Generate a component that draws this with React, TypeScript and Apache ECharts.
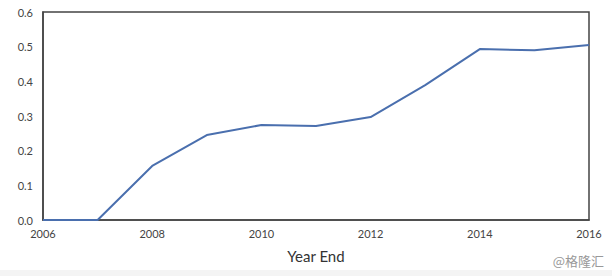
import React, { useEffect, useRef } from "react";
import * as echarts from "echarts";

const years = [2006, 2007, 2008, 2009, 2010, 2011, 2012, 2013, 2014, 2015, 2016];
const values = [0, 0, 0.156, 0.245, 0.274, 0.271, 0.297, 0.389, 0.493, 0.49, 0.505];
const xTicks = [2006, 2008, 2010, 2012, 2014, 2016];
const yTicks = [0, 0.1, 0.2, 0.3, 0.4, 0.5, 0.6];

export default function App() {
  const ref = useRef<HTMLDivElement>(null);
  useEffect(() => {
    const chart = echarts.init(ref.current!, undefined, { renderer: "svg" });
    chart.setOption({
      animation: false,
      backgroundColor: "#ffffff",
      grid: {
        left: 43,
        right: 23,
        top: 12,
        bottom: 56,
        show: true,
        borderColor: "#444",
        borderWidth: 1.5,
        backgroundColor: "transparent",
      },
      xAxis: {
        type: "value",
        min: xTicks[0],
        max: xTicks[xTicks.length - 1],
        interval: 2,
        name: "Year End",
        nameLocation: "middle",
        nameGap: 28,
        nameTextStyle: { fontSize: 15, color: "#333", fontFamily: "Lato" },
        axisLine: { show: true, lineStyle: { color: "#444", width: 1.5 } },
        axisTick: { show: false },
        splitLine: { show: false },
        axisLabel: {
          fontSize: 11,
          color: "#444",
          fontFamily: "Lato",
          margin: 8,
          formatter: (v: number) => String(v),
        },
      },
      yAxis: {
        type: "value",
        min: yTicks[0],
        max: yTicks[yTicks.length - 1],
        interval: 0.1,
        axisLine: { show: true, lineStyle: { color: "#444", width: 1.5 } },
        axisTick: { show: false },
        splitLine: { show: false },
        axisLabel: {
          fontSize: 11,
          color: "#444",
          fontFamily: "Lato",
          margin: 10,
          formatter: (v: number) => v.toFixed(1),
        },
      },
      series: [
        {
          type: "line",
          data: years.map((y, i) => [y, values[i]]),
          showSymbol: false,
          lineStyle: { color: "#4a6fae", width: 2 },
        },
      ],
      graphic: [
        {
          type: "rect",
          left: 0,
          top: 270,
          shape: { width: 612, height: 6 },
          style: { fill: "#f4f4f4" },
        },
        {
          type: "text",
          right: 8,
          top: 254,
          style: {
            text: "@格隆汇",
            fontSize: 13,
            fill: "#999",
            fontFamily: "Noto Sans CJK SC",
          },
        },
      ],
    });
    return () => chart.dispose();
  }, []);
  return <div ref={ref} style={{ width: 612, height: 276, position: "absolute", left: 0, top: 0 }} />;
}
